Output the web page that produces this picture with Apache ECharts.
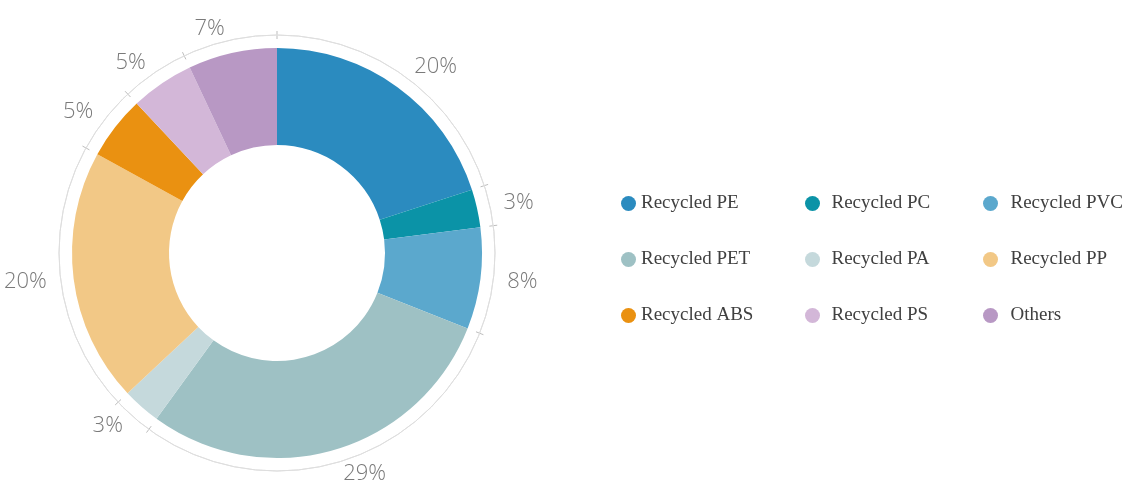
<!DOCTYPE html>
<html>
<head>
<meta charset="utf-8">
<script src="https://cdn.jsdelivr.net/npm/echarts@6/dist/echarts.min.js"></script>
<style>
  html, body { margin: 0; padding: 0; background: #fff; }
  #chart { width: 1137px; height: 488px; }
</style>
</head>
<body>
<div id="chart"></div>
<script>
  // data (percent shares)
  var categories = ['Recycled PE', 'Recycled PC', 'Recycled PVC', 'Recycled PET', 'Recycled PA',
    'Recycled PP', 'Recycled ABS', 'Recycled PS', 'Others'];
  var shares = [20, 3, 8, 29, 3, 20, 5, 5, 7];
  var colors = ['#2b8bbf', '#0b93a7', '#5ba8cd', '#9ec1c4', '#c5d9dc', '#f2c886', '#ea9111', '#d3b7d8', '#b898c4'];

  // slice boundaries for the ticks on the outer ring
  var bounds = [];
  var acc = 0;
  shares.forEach(function (v) { bounds.push(acc); acc += v; });

  var pieData = categories.map(function (name, i) {
    return { name: name, value: shares[i], itemStyle: { color: colors[i] } };
  });

  var legendText = { fontFamily: 'Liberation Serif', fontSize: 19, lineHeight: 19, color: '#404040' };
  function column(names, left, width) {
    return {
      orient: 'vertical', left: left, top: 194, padding: 0,
      itemWidth: width, itemHeight: 15, itemGap: 37,
      icon: 'circle', data: names, textStyle: legendText, selectedMode: false
    };
  }

  var ringAxis = function (idx, inside) {
    return {
      polarIndex: idx, type: 'value', min: 0, max: 100, startAngle: 90, clockwise: true,
      axisLine: { show: true, lineStyle: { color: '#dedede', width: 1 } },
      axisTick: { show: true, inside: inside, length: 4, customValues: bounds, lineStyle: { color: '#bdbdbd' } },
      axisLabel: { show: false }, splitLine: { show: false }
    };
  };

  var chart = echarts.init(document.getElementById('chart'));
  chart.setOption({
    animation: false,
    legend: [
      column([categories[0], categories[3], categories[6]], 621, 15),
      column([categories[1], categories[4], categories[7]], 805, 28),
      column([categories[2], categories[5], categories[8]], 983, 30)
    ],
    polar: [
      { center: [277, 253], radius: 218 },
      { center: [277, 253], radius: 218 }
    ],
    angleAxis: [ringAxis(0, false), ringAxis(1, true)],
    radiusAxis: [
      { polarIndex: 0, show: false },
      { polarIndex: 1, show: false }
    ],
    series: [
      {
        name: 'share',
        type: 'pie',
        center: [277, 253],
        radius: [108, 205],
        startAngle: 90,
        avoidLabelOverlap: false,
        data: pieData,
        label: {
          show: true,
          position: 'outside',
          formatter: '{c}%',
          fontFamily: 'Open Sans',
          fontWeight: 300,
          fontSize: 22,
          color: '#7a7a7a',
          distanceToLabelLine: 2
        },
        labelLine: { show: false, length: 25, length2: 0 },
        emphasis: { disabled: true }
      }
    ]
  });
</script>
</body>
</html>
